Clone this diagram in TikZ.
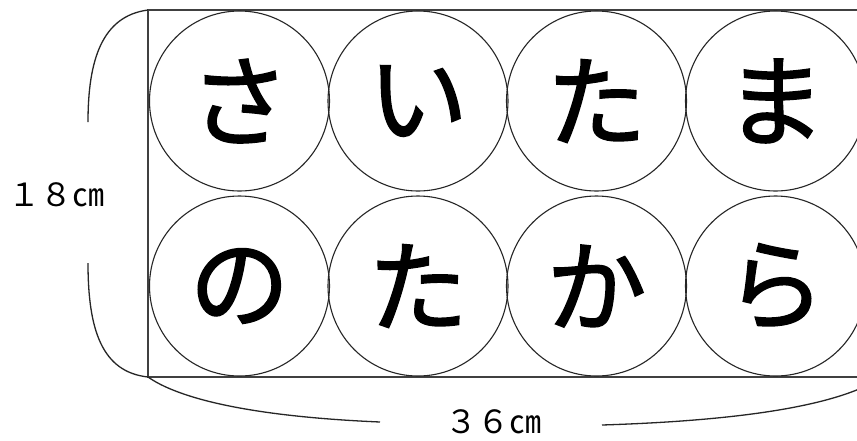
\documentclass[tikz,border=0pt]{standalone}
\usepackage{fontspec}
\newfontfamily\jpfont{Noto Sans CJK JP}
\newfontfamily\jpheavy[FakeBold=1.6]{Noto Sans CJK JP}
\begin{document}
\begin{tikzpicture}[x=1pt,y=-1pt,
  kana/.style={circle,draw=black!85,line width=1.1pt,minimum size=180pt,inner sep=0pt,
    font=\jpheavy\fontsize{100}{100}\selectfont},
  dimlabel/.style={font=\jpfont\fontsize{32}{32}\selectfont,inner sep=0pt},
  brace/.style={draw=black!85,line width=1.3pt}]
\useasboundingbox (0,0) rectangle (857,440);
\clip (0,0) rectangle (857,440);
\fill[white] (0,0) rectangle (857,440);
% outer rectangle
\coordinate (nw) at (148,10);
\coordinate (sw) at (148,377);
\coordinate (se) at (882,377);
\coordinate (ne) at (882,10);
\draw[draw=black!75,line width=1.5pt] (nw) -- (ne) -- (se) -- (sw) -- cycle;
% circles
\node[kana] (c1) at (239.5,101) {さ};
\node[kana] (c2) at (418,101) {い};
\node[kana] (c3) at (596.5,101) {た};
\node[kana] (c4) at (775.5,101) {ま};
\node[kana] (c5) at (239.5,286) {の};
\node[kana] (c6) at (418,286) {た};
\node[kana] (c7) at (596.5,286) {か};
\node[kana] (c8) at (775.5,286) {ら};
% dimension labels
\node[dimlabel] (h) at (57,195) {１８㎝};
\node[dimlabel] (w) at (493,422) {３６㎝};
% braces
\coordinate (lt) at (88,122);
\coordinate (lb) at (88,263);
\coordinate (bl) at (380,422);
\coordinate (br) at (602,425);
\path[brace] (nw) .. controls (102,16) and (88,60) .. (lt);
\path[brace] (lb) .. controls (88,330) and (102,372) .. (sw);
\path[brace] (sw) .. controls (175,396) and (240,416) .. (bl);
\path[brace] (br) .. controls (760,420) and (845,402) .. (se);
\end{tikzpicture}
\end{document}
